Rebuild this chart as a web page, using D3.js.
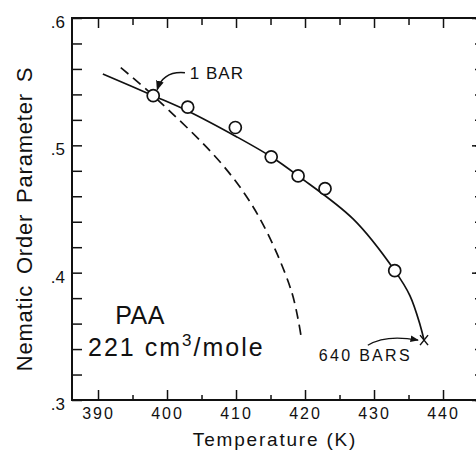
<!DOCTYPE html>
<html>
<head>
<meta charset="utf-8">
<script src="https://cdn.jsdelivr.net/npm/d3@7"></script>
<style>
    body { margin: 0; background: #fff; }
    svg { display: block; font-family: "Liberation Sans", Arial, sans-serif; }
    .tick line { stroke: #111; stroke-width: 1.5; }
    .tick text { fill: #111; }
</style>
</head>
<body>
<div id="chart"></div>
<script>
// measured points (open circles), 1 bar .. 640 bars
const pointT = [398.0, 403.0, 409.9, 415.1, 419.0, 422.9, 433.0];
const pointS = [0.539, 0.530, 0.514, 0.491, 0.476, 0.466, 0.4016];

// solid fitted curve
const solidT = [390.7, 398.0, 403.0, 410.0, 415.1, 419.0, 427.0, 433.0, 435.2, 436.7, 437.25];
const solidS = [0.556, 0.539, 0.527, 0.507, 0.491, 0.476, 0.442, 0.4016, 0.382, 0.3586, 0.347];

// dashed curve
const dashT = [393.3, 398.0, 408.0, 413.3, 418.0, 419.4];
const dashS = [0.561, 0.539, 0.485, 0.444, 0.386, 0.351];

// end point at 640 bars (x mark)
const endT = 437.25;
const endS = 0.347;

const xMajor = [390, 400, 410, 420, 430, 440];
const xMinor = [395, 405, 415, 425, 435, 445];
const yMajor = [0.3, 0.4, 0.5, 0.6];
const yMinor = d3.range(15, 31).map(d => d / 50);

const width = 476, height = 450;
const margin = {left: 72, top: 18, right: 480, bottom: 400};

const x = d3.scaleLinear().domain([386.23, 445.36]).range([margin.left, margin.right]);
const y = d3.scaleLinear().domain([0.3, 0.6]).range([margin.bottom, margin.top]);

const svg = d3.select("#chart").append("svg")
    .attr("width", width)
    .attr("height", height);

const fmt = d => d3.format(".1f")(d).replace(/^0/, "");

// bottom axis
svg.append("g")
    .attr("transform", `translate(0,${margin.bottom})`)
    .call(d3.axisBottom(x).tickValues(xMinor).tickSizeInner(-5).tickSizeOuter(0).tickFormat(""))
    .call(g => g.select(".domain").remove());
svg.append("g")
    .attr("transform", `translate(0,${margin.bottom})`)
    .call(d3.axisBottom(x).tickValues(xMajor).tickSizeInner(-10).tickSizeOuter(0).tickPadding(8).tickFormat(d3.format("d")))
    .call(g => g.select(".domain").remove())
    .call(g => g.selectAll("text").attr("font-size", 16).attr("letter-spacing", 2));

// top axis
svg.append("g")
    .attr("transform", `translate(0,${margin.top})`)
    .call(d3.axisTop(x).tickValues(xMinor).tickSizeInner(-7).tickSizeOuter(0).tickFormat(""))
    .call(g => g.select(".domain").remove());
svg.append("g")
    .attr("transform", `translate(0,${margin.top})`)
    .call(d3.axisTop(x).tickValues(xMajor).tickSizeInner(-10).tickSizeOuter(0).tickFormat(""))
    .call(g => g.select(".domain").remove());

// left axis
svg.append("g")
    .attr("transform", `translate(${margin.left},0)`)
    .call(d3.axisLeft(y).tickValues(yMinor).tickSizeInner(-10).tickSizeOuter(0).tickFormat(""))
    .call(g => g.select(".domain").remove());
svg.append("g")
    .attr("transform", `translate(${margin.left},0)`)
    .call(d3.axisLeft(y).tickValues(yMajor).tickSizeInner(0).tickSizeOuter(0).tickPadding(7).tickFormat(fmt))
    .call(g => g.select(".domain").remove())
    .call(g => g.selectAll("text").attr("font-size", 17).attr("dy", "0.55em"));

// right axis
svg.append("g")
    .attr("transform", `translate(${margin.right},0)`)
    .call(d3.axisRight(y).tickValues(yMinor).tickSizeInner(-5).tickSizeOuter(0).tickFormat(""))
    .call(g => g.select(".domain").remove());
svg.append("g")
    .attr("transform", `translate(${margin.right},0)`)
    .call(d3.axisRight(y).tickValues(yMajor).tickSizeInner(-8).tickSizeOuter(0).tickFormat(""))
    .call(g => g.select(".domain").remove());

// frame
svg.append("rect")
    .attr("x", margin.left)
    .attr("y", margin.top)
    .attr("width", margin.right - margin.left)
    .attr("height", margin.bottom - margin.top)
    .attr("fill", "none")
    .attr("stroke", "#111")
    .attr("stroke-width", 2);

// curves
const line = d3.line()
    .x(d => x(d[0]))
    .y(d => y(d[1]))
    .curve(d3.curveCatmullRom.alpha(0.5));

svg.append("path")
    .datum(d3.zip(solidT, solidS))
    .attr("d", line)
    .attr("fill", "none")
    .attr("stroke", "#111")
    .attr("stroke-width", 1.7);

svg.append("path")
    .datum(d3.zip(dashT, dashS))
    .attr("d", line)
    .attr("fill", "none")
    .attr("stroke", "#111")
    .attr("stroke-width", 1.7)
    .attr("stroke-dasharray", "10,6");

// open circles
svg.selectAll("circle.pt")
    .data(d3.zip(pointT, pointS))
    .enter()
    .append("circle")
    .attr("class", "pt")
    .attr("cx", d => x(d[0]))
    .attr("cy", d => y(d[1]))
    .attr("r", 6)
    .attr("fill", "#fff")
    .attr("stroke", "#111")
    .attr("stroke-width", 1.7);

// x mark at 640 bars
const ex = x(endT), ey = y(endS);
svg.append("path")
    .attr("d", `M${ex - 4},${ey - 5}L${ex + 4},${ey + 5}M${ex + 4},${ey - 5}L${ex - 4},${ey + 5}`)
    .attr("stroke", "#111")
    .attr("stroke-width", 1.5);

// arrow heads
svg.append("defs").append("marker")
    .attr("id", "head")
    .attr("viewBox", "0 0 10 10")
    .attr("refX", 9)
    .attr("refY", 5)
    .attr("markerWidth", 7)
    .attr("markerHeight", 7)
    .attr("orient", "auto")
    .append("path")
    .attr("d", "M0,1L10,5L0,9z")
    .attr("fill", "#111");

// annotation: 1 BAR
const a1 = [x(402.6), y(0.557)];
const a1end = [x(pointT[0]) + 4, y(pointS[0]) - 6];
svg.append("path")
    .attr("d", `M${a1[0]},${a1[1]}Q${a1end[0] + 6},${a1[1] - 2} ${a1end[0]},${a1end[1]}`)
    .attr("fill", "none")
    .attr("stroke", "#111")
    .attr("stroke-width", 1.4)
    .attr("marker-end", "url(#head)");
svg.append("text")
    .attr("x", x(403.3))
    .attr("y", y(0.5523))
    .attr("font-size", 17)
    .attr("letter-spacing", 1)
    .attr("fill", "#111")
    .text("1 BAR");

// annotation: 640 BARS
const a2 = [x(429.1), y(0.343)];
const a2end = [ex - 6, ey];
svg.append("path")
    .attr("d", `M${a2[0]},${a2[1]}Q${a2[0] + 18},${a2end[1] - 6} ${a2end[0]},${a2end[1]}`)
    .attr("fill", "none")
    .attr("stroke", "#111")
    .attr("stroke-width", 1.2)
    .attr("marker-end", "url(#head)");
svg.append("text")
    .attr("x", x(422.0))
    .attr("y", y(0.3305))
    .attr("font-size", 16)
    .attr("letter-spacing", 2.3)
    .attr("fill", "#111")
    .text("640 BARS");

// sample label
svg.append("text")
    .attr("x", x(392.5))
    .attr("y", y(0.360))
    .attr("font-size", 25)
    .attr("letter-spacing", 0.5)
    .attr("fill", "#111")
    .text("PAA");
const vol = svg.append("text")
    .attr("x", x(388.55))
    .attr("y", y(0.3344))
    .attr("font-size", 25)
    .attr("letter-spacing", 2)
    .attr("fill", "#111");
vol.append("tspan").text("221 cm");
vol.append("tspan").attr("font-size", 17).attr("dy", -10).text("3");
vol.append("tspan").attr("dy", 10).text("/mole");

// axis titles
svg.append("text")
    .attr("x", (margin.left + 476) / 2 + 1)
    .attr("y", 446)
    .attr("text-anchor", "middle")
    .attr("font-size", 19)
    .attr("letter-spacing", 1.8)
    .attr("fill", "#111")
    .text("Temperature (K)");

svg.append("text")
    .attr("transform", `translate(32,219) rotate(-90)`)
    .attr("text-anchor", "middle")
    .attr("font-size", 22)
    .attr("letter-spacing", 0.8)
    .attr("word-spacing", 4)
    .attr("fill", "#111")
    .text("Nematic Order Parameter S");
</script>
</body>
</html>
